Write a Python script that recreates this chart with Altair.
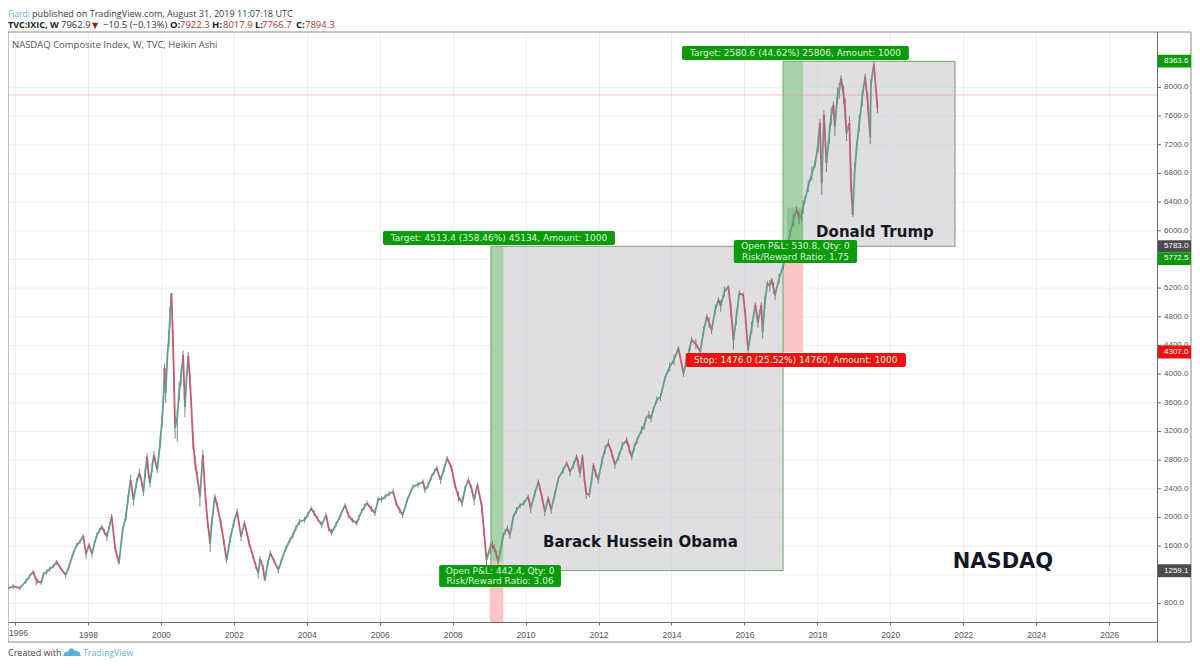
import altair as alt
import pandas as pd

# ---- price path (turning points of the weekly Heikin Ashi series)
pivot_year = [1995.81,1995.95,1996.14,1996.3,1996.5,1996.58,1996.72,1996.87,1997.14,1997.25,1997.39,1997.55,1997.69,1997.87,1997.95,1998.03,1998.11,1998.25,1998.38,1998.52,1998.65,1998.85,
 1999.04,1999.17,1999.25,1999.41,1999.52,1999.62,1999.7,1999.81,1999.9,2000.07,2000.1,2000.13,2000.18,2000.29,2000.39,2000.45,2000.61,2000.66,2000.75,2000.88,2001.07,2001.15,2001.35,2001.48,2001.8,2002.09,2002.2,2002.29,2002.67,2002.72,2002.85,
 2003.0,2003.22,2003.54,2003.62,2003.8,2003.94,2004.12,2004.41,2004.53,2004.68,2004.91,2005.05,2005.14,2005.37,2005.5,2005.65,2005.87,2005.96,2006.15,2006.37,2006.63,2006.91,2007.19,2007.24,2007.42,2007.56,2007.67,2007.85,2007.97,2008.16,2008.26,2008.43,2008.59,2008.68,2008.8,2008.93,2009.03,2009.14,2009.25,
 2009.39,2009.5,2009.57,2009.66,2009.85,2010.07,2010.14,2010.35,2010.53,2010.62,2010.7,2010.9,2011.13,2011.22,2011.4,2011.49,2011.56,2011.66,2011.75,2011.86,2011.99,2012.27,2012.45,2012.77,2012.91,2013.06,2013.3,2013.5,2013.82,2014.19,2014.33,2014.55,2014.79,2014.97,2015.1,2015.29,2015.56,2015.7,2015.86,2015.97,2016.1,2016.3,2016.37,2016.46,2016.5,2016.63,2016.75,2016.84,
 2017.07,2017.25,2017.43,2017.57,2017.66,2017.94,2018.07,2018.12,2018.18,2018.25,2018.44,2018.48,2018.65,2018.8,2018.88,2018.97,2019.08,2019.31,2019.45,2019.47,2019.55,2019.65]
pivot_price = [1010,1040,1016,1110,1244,1130,1090,1244,1383,1290,1198,1430,1616,1741,1490,1620,1490,1760,1871,1732,2011,1364,
 2011,2523,2244,2620,2360,2848,2480,2872,2662,3639,4081,3736,4267,5127,3248,3400,4267,3545,4253,3081,2290,2872,1640,2290,1407,2080,1732,1923,1225,1420,1128,
 1500,1267,1686,1755,1941,1965,2128,1895,2034,1783,2011,2174,2034,1919,2080,2202,2062,2258,2290,2360,2034,2430,2500,2383,2569,2690,2523,2826,2690,2290,2202,2523,2244,2453,2150,1407,1592,1574,1383,
 1755,1849,1755,2002,2170,2290,2128,2500,2080,2267,2104,2546,2756,2639,2848,2616,2848,2337,2314,2732,2523,3035,2732,3081,2848,3081,3380,3500,3941,4360,4011,4476,4313,4801,4615,5035,5219,4476,5127,5100,4336,4965,4715,4965,4590,5267,5313,5100,
 5522,5967,6290,6220,6430,6941,7499,6662,7615,6943,7755,7451,8127,7358,7499,6220,7180,8150,7312,8050,8322,7709]
wick_high = [1050,1070,1050,1140,1265,1160,1130,1280,1405,1320,1240,1460,1640,1770,1550,1650,1540,1790,1900,1790,2050,1450,
 2060,2590,2320,2680,2420,2900,2560,2930,2740,3700,4150,3820,4330,5132,3400,3500,4330,3650,4310,3200,2400,2940,1750,2330,1490,2130,1790,1960,1290,1460,1180,
 1540,1320,1720,1790,1980,2010,2155,1940,2070,1840,2040,2200,2080,1960,2120,2240,2110,2290,2330,2400,2080,2460,2530,2430,2600,2720,2570,2860,2730,2360,2290,2560,2300,2490,2200,1500,1640,1620,1450,
 1790,1890,1800,2040,2200,2320,2180,2530,2130,2300,2150,2570,2790,2680,2880,2680,2880,2420,2400,2760,2570,3090,2790,3120,2900,3120,3410,3540,3970,4390,4060,4520,4360,4840,4660,5070,5240,4570,5170,5140,4450,5000,4770,5000,4660,5300,5340,5160,
 5560,6020,6340,6290,6480,6990,7560,6800,7680,7060,7800,7550,8170,7480,7600,6430,7230,8190,7430,8110,8363,7820]
wick_low = [980,1000,985,1080,1210,1050,1060,1210,1340,1270,1150,1400,1580,1700,1420,1580,1440,1730,1830,1670,1970,1340,
 1960,2460,2170,2560,2300,2780,2420,2800,2620,3560,3950,3600,4180,4950,3100,3057,4150,3400,4100,2950,2150,2780,1520,2220,1360,2020,1670,1870,1150,1380,1110,
 1460,1220,1650,1710,1900,1930,2090,1850,1990,1750,1970,2140,1990,1880,2050,2170,2020,2220,2250,2320,1990,2390,2470,2340,2530,2650,2470,2790,2640,2220,2150,2480,2170,2410,2060,1320,1480,1520,1320,
 1720,1800,1700,1960,2130,2260,2060,2460,2020,2210,2050,2500,2720,2580,2810,2560,2800,2260,2280,2680,2470,2990,2680,3030,2800,3030,3340,3460,3900,4320,3960,4440,4260,4760,4560,4990,5150,4340,5080,5040,4210,4920,4650,4910,4500,5220,5260,5030,
 5470,5910,6240,6130,6380,6880,7420,6500,7550,6820,7700,7320,8050,7250,7430,6190,7120,8090,7210,7990,8250,7640]

# finer waypoints between the turning points, with the half length of their wicks
detail_year = [1996.4,1996.62,1996.78,1996.95,1997.05,1997.47,1997.6,1997.78,1998.18,1998.32,1998.45,1998.6,1998.75,1998.95,1999.1,
 1999.33,1999.47,1999.57,1999.66,1999.76,1999.98,2000.03,2000.22,2000.25,2000.33,2000.36,2000.5,2000.55,2000.7,2000.8,2000.84,2000.94,2001.0,2001.22,2001.28,2001.4,2001.55,2001.65,2001.73,
 2001.9,2002.0,2002.35,2002.42,2002.52,2002.6,2002.8,2002.93,2003.1,2003.3,2003.42,2003.7,2004.03,2004.2,2004.3,2004.6,2004.8,
 2005.25,2005.43,2005.58,2005.77,2006.05,2006.26,2006.45,2006.55,2006.76,2007.05,2007.33,2007.5,2007.77,2008.06,2008.34,2008.52,2008.86,2009.09,2009.2,
 2009.44,2009.62,2009.75,2009.95,2010.25,2010.45,2010.8,2011.03,2011.31,2011.44,2011.61,2011.81,2011.92,2012.1,2012.18,2012.36,2012.55,2012.65,2012.84,2012.98,
 2013.18,2013.25,2013.38,2013.44,2013.6,2013.7,2013.95,2014.07,2014.42,2014.48,2014.67,2014.88,2015.03,2015.2,2015.35,2015.45,2015.63,2015.78,2016.03,2016.2,
 2016.56,2016.7,2016.8,2016.95,2017.16,2017.34,2017.5,2017.61,2017.75,2017.85,2018.02,2018.33,2018.38,2018.55,2018.6,2018.72,2018.76,2018.92,2019.02,2019.15,2019.23,2019.38]
detail_price = [1180,1110,1210,1280,1320,1300,1500,1660,1640,1820,1800,1900,1560,1820,2260,
 2480,2500,2620,2620,2700,3050,3340,4500,4800,4500,3900,3750,3950,3900,3900,3500,2760,2560,2300,1950,1950,2150,1900,1650,
 1700,1930,1800,1640,1470,1330,1300,1360,1400,1390,1560,1850,2040,2060,1980,1850,1900,
 1960,2000,2150,2120,2250,2330,2200,2100,2250,2460,2450,2640,2690,2460,2400,2400,1800,1620,1480,
 1800,1880,2100,2200,2330,2280,2320,2660,2730,2760,2560,2520,2620,2800,2950,2900,2850,3000,2960,2980,
 3220,3270,3430,3380,3640,3680,4100,4200,4200,4300,4420,4600,4720,4900,4950,5150,4900,4800,4800,4650,
 5000,5230,5200,5330,5750,6150,6180,6330,6620,6800,7200,7350,7600,7880,7950,7900,7700,6700,6800,7500,7850,7800]
detail_wick = [28,30,25,34,30,36,32,30,40,34,38,36,50,44,54,
 70,60,64,70,66,80,90,110,130,120,140,130,110,120,100,120,90,80,80,90,70,66,60,50,
 48,44,50,46,40,42,36,38,34,36,38,40,38,42,36,40,34,
 36,38,44,40,42,36,44,40,34,38,44,40,50,54,46,50,60,56,50,
 40,44,46,38,48,42,50,46,52,48,60,54,50,56,60,52,54,56,60,50,
 54,48,56,52,50,58,64,70,60,66,70,64,72,68,80,70,100,110,100,90,
 90,80,76,70,70,86,90,96,80,100,110,130,120,120,110,130,150,170,150,120,110,130]

# ---- trade tool shapes (x in years, y in prices)
zone_x1 = [2009.05,2017.06]
zone_x2 = [2017.06,2021.775]
zone_top = [5783,8363.6]
zone_bottom = [1259.1,5783]

target_x1 = [2009.05,2017.06]
target_x2 = [2009.39,2017.61]
target_top = [5783,8363.6]
target_bottom = [1383,5783]

stop_x1 = [2009.02,2017.06]
stop_x2 = [2009.39,2017.61]
stop_top = [1383,5772.5]
stop_bottom = [541.9,4307]

# the tool's darker overlap at the foot of the Trump target zone
overlap_x = [2017.17,2017.61]
overlap_y = [5783,6324]

# ---- callouts
green_boxes_x1 = [2006.09,2014.29,2007.63,2015.71]
green_boxes_x2 = [2012.45,2020.51,2010.97,2019.09]
green_boxes_top = [5996,8577,1337,5871]
green_boxes_bottom = [5801,8382,1030,5550]
red_box_x = [2014.39,2020.43]
red_box_y = [4294,4099]

callout_text = ["Target: 4513.4 (358.46%) 45134, Amount: 1000","Target: 2580.6 (44.62%) 25806, Amount: 1000",
                "Open P&L: 442.4, Qty: 0","Risk/Reward Ratio: 3.06","Open P&L: 530.8, Qty: 0","Risk/Reward Ratio: 1.75",
                "Stop: 1476.0 (25.52%) 14760, Amount: 1000"]
callout_year = [2009.27,2017.40,2009.30,2009.30,2017.40,2017.40,2017.41]
callout_price = [5899,8480,1253,1114,5787,5634,4197]

big_text = ["Barack Hussein Obama","Donald Trump","NASDAQ"]
big_year = [2013.15,2019.58,2023.09]
big_price = [1658,5982,1379]
big_size = [15,15,21]

# ---- axis
year_ticks = list(range(1996,2028,2))
price_ticks = [800,1200,1600,2000,2400,2800,3200,3600,4000,4400,4800,5200,5600,6000,6400,6800,7200,7600,8000]
covered_ticks = [1200,5600]   # hidden behind the price tags in the reference
last_close = 7894.3

scale_labels = ["8363.6","5783.0","5772.5","4307.0","1259.1"]
scale_price = [8363.6,5783.0,5613,4307.0,1259.1]
scale_top = [8454,5867,5700,4400,1347]
scale_bottom = [8277,5700,5522,4219,1166]
scale_color = ["#0a9a0a","#4b4b50","#0a9a0a","#f01010","#4b4b50"]

FONT = "DejaVu Sans"
GRID = "#eef1f4"
xs = alt.Scale(domain=[1995.808,2027.327],nice=False,zero=False)
ys = alt.Scale(domain=[541.9,8772.4],nice=False,zero=False)
X = lambda f,**k: alt.X(f,type="quantitative",scale=xs,title=None,**k)
Y = lambda f,**k: alt.Y(f,type="quantitative",scale=ys,title=None,**k)

def px(v): return alt.value(v-8)
def py(v): return alt.value(v-32)

def label(text,x,y,color,size=9.5,weight="normal",font="Open Sans",align="left"):
    return alt.Chart().mark_text(font=font,fontSize=size,fontWeight=weight,color=color,align=align,baseline="alphabetic").encode(
        x=px(x),y=py(y),text=alt.value(text))

def line(x1,y1,x2,y2,color="#8a8a8a",w=1):
    return alt.Chart().mark_rule(color=color,strokeWidth=w).encode(x=px(x1),x2=px(x2),y=py(y1),y2=py(y2))

# axes and grid
axes = alt.Chart(pd.DataFrame({"y":year_ticks,"p":[price_ticks[0]]*len(year_ticks)})).mark_point(opacity=0).encode(
    x=alt.X("y:Q",scale=xs,title=None,axis=alt.Axis(values=year_ticks,format="d",orient="bottom",grid=True,gridColor=GRID,
        gridWidth=1,domainColor="#6b6b6b",tickColor="#6b6b6b",tickSize=3,labelFont="Liberation Sans",labelFontSize=8.5,labelColor="#555555",labelPadding=5,labelFlush=False,labelOverlap=False,
        labelExpr="datum.value==1996 ? '' : datum.label")),
    y=alt.Y("p:Q",scale=ys,title=None,axis=alt.Axis(values=price_ticks,orient="right",grid=False,labels=False,ticks=False,domain=False)))

price_df = pd.DataFrame({"p":price_ticks})
label_df = pd.DataFrame({"p":[p for p in price_ticks if p not in covered_ticks]})
label_df["t"] = [f"{p:.1f}" for p in label_df["p"]]
hgrid = alt.Chart(price_df).mark_rule(color=GRID,strokeWidth=1).encode(y=Y("p"))
ptick = alt.Chart(price_df).mark_rule(color="#6b6b6b",strokeWidth=1).encode(x=px(1157.5),x2=px(1161),y=Y("p"))
plabel = alt.Chart(label_df).mark_text(font="Liberation Sans",fontSize=8,color="#555555",align="left",baseline="middle").encode(x=px(1164),y=Y("p"),text="t:N")

def rects(x1,x2,top,bottom,color,opacity=1.0,**mk):
    d = pd.DataFrame({"a":x1,"b":x2,"t":top,"u":bottom})
    return alt.Chart(d).mark_rect(color=color,opacity=opacity,**mk).encode(x=X("a"),x2="b",y=Y("t"),y2="u")

grey = rects(zone_x1,zone_x2,zone_top,zone_bottom,"#c9cace",0.6)
outline = alt.Chart(pd.DataFrame({"a":zone_x1,"b":zone_x2,"t":zone_top,"u":zone_bottom})).mark_rect(fillOpacity=0,stroke="#6fa56f",strokeWidth=1).encode(x=X("a"),x2="b",y=Y("t"),y2="u")
green = rects(target_x1,target_x2,target_top,target_bottom,"#a9d2a9")
red = rects(stop_x1,stop_x2,stop_top,stop_bottom,"#fcc4c4")
over = rects(overlap_x[:1],overlap_x[1:],overlap_y[1:],overlap_y[:1],"#8fc48f")

last = alt.Chart(pd.DataFrame({"p":[last_close]})).mark_rule(color="#e58a8a",strokeWidth=1,strokeDash=[1,1]).encode(y=Y("p"))

path_df = pd.concat([pd.DataFrame({"a":pivot_year,"p":pivot_price}),pd.DataFrame({"a":detail_year,"p":detail_price})]).sort_values("a")
yrs, prs = path_df["a"].tolist(), path_df["p"].tolist()
seg = pd.DataFrame({"a":yrs[:-1],"b":yrs[1:],"o":prs[:-1],"c":prs[1:]})
seg["dir"] = ["up" if c>=o else "down" for o,c in zip(seg["o"],seg["c"])]
wk = pd.concat([pd.DataFrame({"a":pivot_year,"h":wick_high,"l":wick_low}),
                pd.DataFrame({"a":detail_year,"h":[p+w for p,w in zip(detail_price,detail_wick)],"l":[p-w for p,w in zip(detail_price,detail_wick)]})])
wicks = alt.Chart(wk).mark_rule(color="#55605f",strokeWidth=0.9,opacity=0.85).encode(x=X("a"),y=Y("h"),y2="l")
path = alt.Chart(seg).mark_rule(strokeWidth=1.8).encode(x=X("a"),x2="b",y=Y("o"),y2="c",
    color=alt.Color("dir:N",scale=alt.Scale(domain=["up","down"],range=["#5f9f8b","#c9596e"]),legend=None))

gboxes = rects(green_boxes_x1,green_boxes_x2,green_boxes_top,green_boxes_bottom,"#0a9a0a",cornerRadius=2)
rbox = rects(red_box_x[:1],red_box_x[1:],red_box_y[:1],red_box_y[1:],"#f01010",cornerRadius=2)
ct = alt.Chart(pd.DataFrame({"t":callout_text,"a":callout_year,"p":callout_price})).mark_text(font=FONT,fontSize=9,color="#dff5df",align="center",baseline="middle").encode(x=X("a"),y=Y("p"),text="t:N")
bt = alt.Chart(pd.DataFrame({"t":big_text,"a":big_year,"p":big_price,"s":big_size})).mark_text(font=FONT,fontWeight="bold",color="#131722",align="center",baseline="middle").encode(
    x=X("a"),y=Y("p"),text="t:N",size=alt.Size("s:Q",scale=None,legend=None))

sb = pd.DataFrame({"t":scale_labels,"p":scale_price,"u":scale_top,"v":scale_bottom,"c":scale_color})
sboxes = alt.Chart(sb).mark_rect().encode(x=px(1158),x2=px(1191),y=Y("u"),y2="v",color=alt.Color("c:N",scale=None,legend=None))
stext = alt.Chart(sb).mark_text(font="Liberation Sans",fontSize=8,color="#ffffff",align="left",baseline="middle").encode(x=px(1164),y=Y("p"),text="t:N")

frame = [line(8,32,1191,32),line(8,642,1191,642),line(8,32,8,642),line(1191,32,1191,642),line(1157.5,32,1157.5,642,"#6b6b6b")]

cloud = "M-1,0.45 C-1,0.05 -0.7,-0.1 -0.45,-0.05 C-0.3,-0.55 0.15,-0.55 0.3,-0.15 C0.7,-0.2 1,0.1 1,0.45 Z"
icon = alt.Chart().mark_point(shape=cloud,filled=True,color="#5ab0d8",opacity=1,size=300).encode(x=px(72),y=py(652))

head = [
 label("Fiardi",8,17,"#62b4d8",8.4),
 label("published on TradingView.com, August 31, 2019 11:07:18 UTC",32,17,"#3a3a3a",9.1),
 label("TVC:IXIC, W",8,28,"#222222",9,"bold"),
 label("7962.9",61,28,"#333333"),
 label("▼",92,28,"#a01a1a",8,font="DejaVu Sans"),
 label("−10.5 (−0.13%)",103,28,"#333333"),
 label("O:",170,28,"#222222",9.5,"bold"),label("7922.3",180,28,"#a23a3a"),
 label("H:",212,28,"#222222",9.5,"bold"),label("8017.9",223,28,"#a23a3a"),
 label("L:",255,28,"#222222",9.5,"bold"),label("7766.7",262,28,"#a23a3a"),
 label("C:",296,28,"#222222",9.5,"bold"),label("7894.3",305,28,"#a23a3a"),
 label("NASDAQ Composite Index, W, TVC, Heikin Ashi",12,48,"#555555",9.5),
 label("1996",9,636,"#555555",8.5,font="Liberation Sans"),
 label("Created with",8,656,"#444444",9),
 label("TradingView",83,656,"#62b4d8",8.8),
]

chart = alt.layer(axes,hgrid,ptick,plabel,grey,green,red,over,outline,last,wicks,path,*frame,gboxes,rbox,ct,bt,sboxes,stext,icon,*head).properties(
    width=1149.5,height=590,autosize="none",padding={"left":0,"top":24,"right":34.5,"bottom":36},background="#ffffff"
).configure_view(stroke=None)

chart.save("out.html", embed_options={"renderer": "svg", "actions": False})
